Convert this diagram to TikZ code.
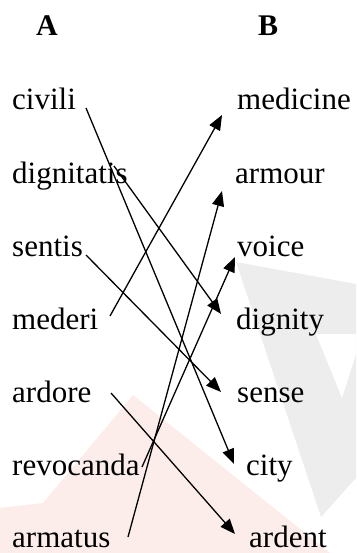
\documentclass[tikz,border=0pt]{standalone}
\usepackage{fontspec}
\setmainfont{Liberation Serif}
\newfontfamily\wordfont{Liberation Serif}
\usetikzlibrary{arrows.meta}
\definecolor{wmgray}{RGB}{237,237,237}
\definecolor{wmpink}{RGB}{252,237,234}
\begin{document}
\begin{tikzpicture}[x=1pt,y=-1pt,
  word/.style={anchor=base west,inner sep=0pt,font=\wordfont\fontsize{31}{36}\selectfont},
  head/.style={anchor=base,inner sep=0pt,font=\wordfont\fontsize{30}{36}\selectfont\bfseries},
  link/.style={line width=1.3pt,-{Triangle[length=15pt,width=12pt]}}]
\useasboundingbox (0,0) rectangle (356,553);
% faint watermark
\fill[wmgray] (236,262) -- (356,284) -- (356,478) -- (321,517) -- cycle;
\fill[white] (316,334) -- (356,334) -- (356,354) -- (342,398) -- cycle;
\fill[wmpink] (133,395) -- (43,503) -- (0,508) -- (0,553) -- (330,553) -- cycle;
% headings
\node[head] (A) at (47,36) {A};
\node[head] (B) at (268,36) {B};
% left column
\node[word] (civili) at (12,110) {civili};
\node[word] (dignitatis) at (12,183) {dignitatis};
\node[word] (sentis) at (12,256) {sentis};
\node[word] (mederi) at (12,329) {mederi};
\node[word] (ardore) at (12,402) {ardore};
\node[word] (revocanda) at (12,475) {revocanda};
\node[word] (armatus) at (12,547) {armatus};
% right column
\node[word] (medicine) at (237,110) {medicine};
\node[word] (armour) at (235,183) {armour};
\node[word] (voice) at (237,256) {voice};
\node[word] (dignity) at (236,329) {dignity};
\node[word] (sense) at (237,402) {sense};
\node[word] (city) at (246,475) {city};
\node[word] (ardent) at (249,547) {ardent};
% connector ends
\coordinate (civili-o) at (86,108);
\coordinate (dignitatis-o) at (114,166);
\coordinate (sentis-o) at (86,255);
\coordinate (mederi-o) at (110,316);
\coordinate (ardore-o) at (111,393);
\coordinate (revocanda-o) at (142,467);
\coordinate (armatus-o) at (128,537);
\coordinate (city-i) at (234,464);
\coordinate (dignity-i) at (221,314);
\coordinate (sense-i) at (221,392);
\coordinate (medicine-i) at (222,115);
\coordinate (ardent-i) at (235,534);
\coordinate (voice-i) at (235,257);
\coordinate (armour-i) at (222,191);
% connectors
\draw[link] (civili-o) -- (city-i);
\draw[link] (dignitatis-o) -- (dignity-i);
\draw[link] (sentis-o) -- (sense-i);
\draw[link] (mederi-o) -- (medicine-i);
\draw[link] (ardore-o) -- (ardent-i);
\draw[link] (revocanda-o) -- (voice-i);
\draw[link] (armatus-o) -- (armour-i);
\end{tikzpicture}
\end{document}
